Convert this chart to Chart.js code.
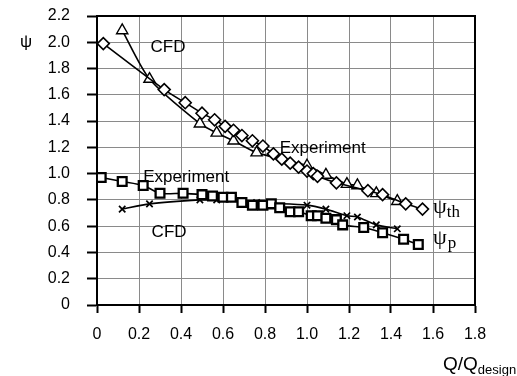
<!DOCTYPE html>
<html>
<head>
<meta charset="utf-8">
<script src="https://cdn.jsdelivr.net/npm/chart.js@4.4.0/dist/chart.umd.min.js"></script>
<style>
  html, body { margin: 0; padding: 0; background: #fff; }
  #wrap { width: 517px; height: 376px; }
</style>
</head>
<body>
<div id="wrap"><canvas id="psiChart" width="517" height="376"></canvas></div>
<script>
// flow ratio Q/Qdesign and head coefficients
const thExpX = [0.03, 0.32, 0.42, 0.50, 0.56, 0.61, 0.65, 0.69, 0.74, 0.79, 0.84, 0.88, 0.92, 0.96, 1.00, 1.03, 1.05, 1.14, 1.29, 1.36, 1.47, 1.55];
const thExpY = [1.99, 1.64, 1.54, 1.46, 1.41, 1.36, 1.33, 1.29, 1.25, 1.21, 1.15, 1.11, 1.08, 1.05, 1.02, 1.00, 0.98, 0.93, 0.87, 0.84, 0.77, 0.73];

const thCfdX = [0.12, 0.25, 0.49, 0.57, 0.65, 0.76, 1.00, 1.09, 1.19, 1.24, 1.33, 1.43];
const thCfdY = [2.09, 1.72, 1.38, 1.31, 1.25, 1.16, 1.06, 0.99, 0.92, 0.91, 0.85, 0.79];

const pExpX = [0.02, 0.12, 0.22, 0.30, 0.41, 0.50, 0.55, 0.60, 0.64, 0.69, 0.74, 0.79, 0.83, 0.87, 0.92, 0.96, 1.02, 1.05, 1.09, 1.14, 1.17, 1.27, 1.36, 1.46, 1.53];
const pExpY = [0.97, 0.94, 0.91, 0.85, 0.85, 0.84, 0.83, 0.82, 0.82, 0.78, 0.76, 0.76, 0.77, 0.74, 0.71, 0.71, 0.68, 0.68, 0.66, 0.65, 0.61, 0.59, 0.55, 0.50, 0.46];

const pCfdX = [0.12, 0.25, 0.49, 0.57, 0.65, 0.76, 1.00, 1.09, 1.19, 1.24, 1.33, 1.43];
const pCfdY = [0.73, 0.77, 0.80, 0.80, 0.81, 0.78, 0.76, 0.73, 0.68, 0.67, 0.61, 0.58];

const xTicks = [0, 0.2, 0.4, 0.6, 0.8, 1.0, 1.2, 1.4, 1.6, 1.8];
const yTicks = [0, 0.2, 0.4, 0.6, 0.8, 1.0, 1.2, 1.4, 1.6, 1.8, 2.0, 2.2];

const SANS = '"Liberation Sans", Arial, sans-serif';
const SERIF = '"Liberation Serif", "Times New Roman", serif';

function pts(xs, ys) {
    return xs.map((x, i) => ({ x: x, y: ys[i] }));
}

function series(label, xs, ys, style, radius, width) {
    return {
        label: label,
        data: pts(xs, ys),
        showLine: true,
        tension: 0.25,
        borderColor: '#000',
        borderWidth: 1.6,
        pointStyle: style,
        pointRadius: radius,
        pointHoverRadius: radius,
        pointBackgroundColor: '#fff',
        pointBorderColor: '#000',
        pointBorderWidth: width
    };
}

// text written into the plot (positions in data units)
const notes = [
    { text: 'CFD', x: 0.255, y: 1.96 },
    { text: 'Experiment', x: 0.87, y: 1.195 },
    { text: 'Experiment', x: 0.22, y: 0.975 },
    { text: 'CFD', x: 0.26, y: 0.555 }
];

const textPlugin = {
    id: 'textPlugin',
    beforeDatasetsDraw(chart) {
        const { ctx, chartArea: a } = chart;
        ctx.save();
        ctx.strokeStyle = '#000';
        ctx.lineWidth = 2;
        ctx.beginPath();
        ctx.moveTo(a.left, a.top);
        ctx.lineTo(a.right, a.top);
        ctx.lineTo(a.right, a.bottom);
        ctx.stroke();
        ctx.restore();
    },
    afterDraw(chart) {
        const { ctx } = chart;
        const xs = chart.scales.x, ys = chart.scales.y;
        ctx.save();
        ctx.fillStyle = '#000';
        ctx.textBaseline = 'middle';
        ctx.textAlign = 'left';
        ctx.font = '17px ' + SANS;
        notes.forEach(n => {
            ctx.fillText(n.text, xs.getPixelForValue(n.x), ys.getPixelForValue(n.y));
        });

        // curve names
        const lx = xs.getPixelForValue(1.6);
        ctx.textBaseline = 'alphabetic';
        ctx.font = '22px ' + SERIF;
        let by = ys.getPixelForValue(0.70);
        ctx.fillText('\u03C8', lx, by);
        let w = ctx.measureText('\u03C8').width;
        ctx.font = '17px ' + SERIF;
        ctx.fillText('th', lx + w, by + 4);

        by = ys.getPixelForValue(0.465);
        ctx.font = '22px ' + SERIF;
        ctx.fillText('\u03C8', lx, by);
        ctx.font = '17px ' + SERIF;
        ctx.fillText('p', lx + w + 1, by + 4);

        // axis titles
        ctx.font = '17px ' + SANS;
        ctx.textBaseline = 'middle';
        ctx.fillText('\u03C8', 20, ys.getPixelForValue(2.0));

        ctx.textBaseline = 'alphabetic';
        ctx.font = '19px ' + SANS;
        ctx.fillText('Q/Q', 443, 370);
        w = ctx.measureText('Q/Q').width;
        ctx.font = '13px ' + SANS;
        ctx.fillText('design', 443 + w, 374);
        ctx.restore();
    }
};

const config = {
    type: 'scatter',
    data: {
        datasets: [
            series('psi_th Experiment', thExpX, thExpY, 'rectRot', 6, 1.6),
            series('psi_th CFD', thCfdX, thCfdY, 'triangle', 6.5, 1.4),
            series('psi_p Experiment', pExpX, pExpY, 'rect', 6.2, 2.3),
            series('psi_p CFD', pCfdX, pCfdY, 'crossRot', 4.5, 1.7)
        ]
    },
    options: {
        responsive: false,
        animation: false,
        events: [],
        layout: {
            padding: { top: 16, right: 42, left: 0, bottom: 0 }
        },
        plugins: {
            legend: { display: false },
            tooltip: { enabled: false }
        },
        scales: {
            x: {
                type: 'linear',
                min: 0,
                max: 1.8,
                afterBuildTicks(scale) {
                    scale.ticks = xTicks.map(v => ({ value: v }));
                },
                afterFit(scale) { scale.height = 71; },
                ticks: {
                    color: '#000',
                    font: { family: SANS, size: 16 },
                    padding: 12,
                    maxRotation: 0,
                    callback: v => v === 0 ? '0' : v.toFixed(1)
                },
                grid: {
                    color: '#8a8a8a',
                    lineWidth: 1,
                    tickColor: '#000',
                    tickLength: 8,
                    tickWidth: 2
                },
                border: { color: '#000', width: 2 }
            },
            y: {
                type: 'linear',
                min: 0,
                max: 2.2,
                afterBuildTicks(scale) {
                    scale.ticks = yTicks.map(v => ({ value: v }));
                },
                afterFit(scale) {
                    scale.width = 97;
                    scale.paddingTop = 0;
                    scale.paddingBottom = 0;
                },
                ticks: {
                    color: '#000',
                    font: { family: SANS, size: 16 },
                    padding: 17,
                    callback: v => v === 0 ? '0' : v.toFixed(1)
                },
                grid: {
                    color: '#8a8a8a',
                    lineWidth: 1,
                    tickColor: '#000',
                    tickLength: 10,
                    tickWidth: 2
                },
                border: { color: '#000', width: 2 }
            }
        }
    },
    plugins: [textPlugin]
};

const psiChart = new Chart(document.getElementById('psiChart').getContext('2d'), config);
</script>
</body>
</html>
